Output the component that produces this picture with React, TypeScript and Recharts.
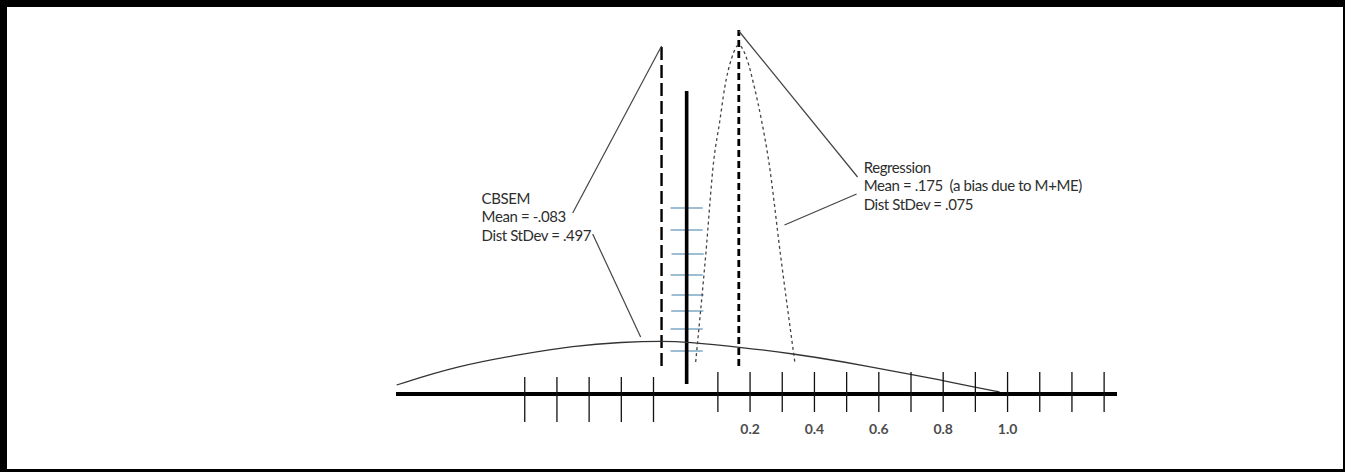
import { ComposedChart, Line, XAxis, YAxis, ReferenceLine, ReferenceDot } from 'recharts'

// x is the effect-size scale, h is the drawn height above the axis
const cbsemCurve = [
  { x: -0.898, h: 9 },
  { x: -0.711, h: 28 },
  { x: -0.506, h: 40 },
  { x: -0.351, h: 48 },
  { x: -0.196, h: 52 },
  { x: -0.071, h: 53 },
  { x: 0.003, h: 52 },
  { x: 0.165, h: 47 },
  { x: 0.339, h: 40 },
  { x: 0.478, h: 33 },
  { x: 0.693, h: 20 },
  { x: 0.792, h: 14 },
  { x: 0.894, h: 7 },
  { x: 0.975, h: 2 },
]

const regressionCurve = [
  { x: 0.031, h: 32 },
  { x: 0.062, h: 138 },
  { x: 0.087, h: 233 },
  { x: 0.106, h: 273 },
  { x: 0.121, h: 306 },
  { x: 0.143, h: 336 },
  { x: 0.165, h: 349 },
  { x: 0.189, h: 336 },
  { x: 0.214, h: 306 },
  { x: 0.236, h: 273 },
  { x: 0.258, h: 233 },
  { x: 0.295, h: 138 },
  { x: 0.339, h: 32 },
]

const axisTicks = [-0.5, -0.4, -0.3, -0.2, -0.1, 0.1, 0.2, 0.3, 0.4, 0.5, 0.6, 0.7, 0.8, 0.9, 1.0, 1.1, 1.2, 1.3]
const labeledTicks = [0.2, 0.4, 0.6, 0.8, 1.0]

// short blue bars around zero: left x, right x, height
const blueBars = [
  { x1: -0.047, x2: 0.053, h: 186 },
  { x1: -0.047, x2: 0.053, h: 164 },
  { x1: -0.044, x2: 0.056, h: 140 },
  { x1: -0.047, x2: 0.053, h: 119 },
  { x1: -0.044, x2: 0.056, h: 99 },
  { x1: -0.045, x2: 0.055, h: 83 },
  { x1: -0.047, x2: 0.053, h: 65 },
  { x1: -0.047, x2: 0.053, h: 43 },
]

const cbsemMean = -0.075
const regressionMean = 0.165
const zeroLine = 0.003

const cbsemLabel = ['CBSEM', 'Mean = -.083', 'Dist StDev = .497']
const regressionLabel = ['Regression', 'Mean = .175  (a bias due to M+ME)', 'Dist StDev = .075']

const TEXT_FONT = 'Lato, "Open Sans", sans-serif'

const AxisTick = (props: any) => {
  const { x, y, payload } = props
  const v = payload.value
  const neg = v < 0
  const showLabel = labeledTicks.some((t) => Math.abs(t - v) < 1e-6)
  return (
    <g>
      <line x1={x} x2={x} y1={y - (neg ? 17 : 22)} y2={y + (neg ? 28 : 18)} stroke="#111" strokeWidth={1.3} />
      {showLabel && (
        <text
          x={x}
          y={y + 34}
          textAnchor="middle"
          dominantBaseline="central"
          fontFamily={TEXT_FONT}
          fontWeight={700}
          fontSize={14}
          fill="#4d4d4d"
        >
          {v.toFixed(1)}
        </text>
      )}
    </g>
  )
}

const textBlock = (lines: string[]) => (props: any) => (
  <text
    x={props.cx}
    y={props.cy}
    fontFamily={TEXT_FONT}
    fontSize={15}
    letterSpacing={-0.4}
    fill="#2e2e2e"
    dominantBaseline="central"
    style={{ whiteSpace: 'pre' }}
  >
    {lines.map((l, i) => (
      <tspan key={i} x={props.cx} dy={i === 0 ? 0 : 18.3}>
        {l}
      </tspan>
    ))}
  </text>
)

export default function App() {
  return (
    <div style={{ position: 'fixed', top: 0, left: 0, width: 1345, height: 472, background: '#fff' }}>
      <div style={{ position: 'absolute', top: 0, left: 0 }}>
        <ComposedChart width={1345} height={472} margin={{ top: 14, right: 228, bottom: 38, left: 396 }}>
          <XAxis
            type="number"
            dataKey="x"
            domain={[-0.9, 1.34]}
            ticks={axisTicks}
            interval={0}
            height={40}
            tickLine={false}
            tickSize={0}
            tickMargin={0}
            axisLine={{ stroke: '#000', strokeWidth: 4 }}
            tick={<AxisTick />}
          />
          <YAxis hide type="number" domain={[0, 380]} />

          {blueBars.map((b, i) => (
            <ReferenceLine
              key={'b' + i}
              segment={[{ x: b.x1, y: b.h }, { x: b.x2, y: b.h }]}
              stroke="#7ea8c4"
              strokeWidth={1.4}
            />
          ))}

          <ReferenceLine
            segment={[{ x: cbsemMean, y: 28 }, { x: cbsemMean, y: 349 }]}
            stroke="#000"
            strokeWidth={2.4}
            strokeDasharray="13 5"
          />
          <ReferenceLine
            segment={[{ x: zeroLine, y: 10 }, { x: zeroLine, y: 303 }]}
            stroke="#000"
            strokeWidth={3.6}
          />
          <ReferenceLine
            segment={[{ x: regressionMean, y: 28 }, { x: regressionMean, y: 364 }]}
            stroke="#000"
            strokeWidth={2.8}
            strokeDasharray="7 4"
          />

          <Line
            data={cbsemCurve}
            dataKey="h"
            type="basis"
            stroke="#333"
            strokeWidth={1.3}
            dot={false}
            isAnimationActive={false}
          />
          <Line
            data={regressionCurve}
            dataKey="h"
            type="monotone"
            stroke="#444"
            strokeWidth={1.3}
            strokeDasharray="3 3"
            dot={false}
            isAnimationActive={false}
          />

          {/* leader lines */}
          <ReferenceLine segment={[{ x: -0.351, y: 181 }, { x: -0.075, y: 348 }]} stroke="#444" strokeWidth={1.2} />
          <ReferenceLine segment={[{ x: -0.289, y: 160 }, { x: -0.14, y: 57 }]} stroke="#444" strokeWidth={1.2} />
          <ReferenceLine segment={[{ x: 0.165, y: 363 }, { x: 0.534, y: 217 }]} stroke="#444" strokeWidth={1.2} />
          <ReferenceLine segment={[{ x: 0.307, y: 169 }, { x: 0.531, y: 200 }]} stroke="#444" strokeWidth={1.2} />

          <ReferenceDot x={-0.634} y={196} r={0} shape={textBlock(cbsemLabel)} />
          <ReferenceDot x={0.553} y={227} r={0} shape={textBlock(regressionLabel)} />
        </ComposedChart>
      </div>
      <div
        style={{
          position: 'absolute',
          inset: 0,
          boxSizing: 'border-box',
          borderStyle: 'solid',
          borderColor: '#000',
          borderWidth: '7px 2px 3px 7px',
          pointerEvents: 'none',
        }}
      />
    </div>
  )
}
